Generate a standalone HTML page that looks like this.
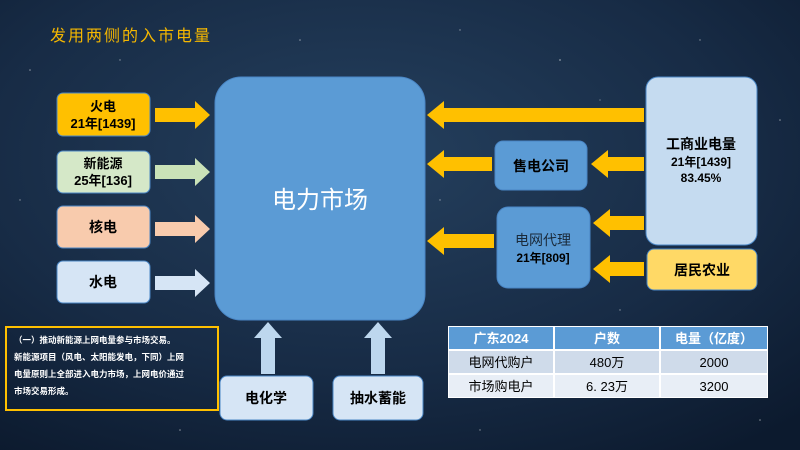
<!DOCTYPE html>
<html><head><meta charset="utf-8"><style>
html,body{margin:0;padding:0;width:800px;height:450px;overflow:hidden;background:#14253d}
svg{display:block}
text{font-family:"Liberation Sans","Noto Sans CJK SC",sans-serif}
</style></head><body>
<svg width="800" height="450" viewBox="0 0 800 450" xmlns="http://www.w3.org/2000/svg">
<defs>
<radialGradient id="bg" cx="0.45" cy="0.35" r="0.8">
<stop offset="0" stop-color="#25405e"/><stop offset="0.6" stop-color="#172b45"/><stop offset="1" stop-color="#0c1a2e"/>
</radialGradient>
</defs>
<rect width="800" height="450" fill="url(#bg)"/>
<g fill="#ffffff" opacity="0.5">
<circle cx="30" cy="70" r="0.8"/><circle cx="120" cy="60" r="0.7"/><circle cx="300" cy="40" r="0.8"/><circle cx="460" cy="30" r="0.7"/><circle cx="560" cy="60" r="0.9"/><circle cx="700" cy="40" r="0.7"/><circle cx="780" cy="120" r="0.8"/><circle cx="620" cy="310" r="0.7"/><circle cx="180" cy="430" r="0.8"/><circle cx="480" cy="430" r="0.7"/><circle cx="760" cy="420" r="0.8"/><circle cx="20" cy="200" r="0.7"/><circle cx="440" cy="200" r="0.7"/><circle cx="600" cy="100" r="0.6"/>
</g>
<text x="50" y="41" font-family="'Noto Serif CJK SC',serif" font-size="16" fill="#f5b700" letter-spacing="2">发用两侧的入市电量</text>

<!-- left boxes -->
<rect x="57" y="93" width="93" height="43" rx="6" fill="#ffc000" stroke="#4a86c5" stroke-width="1"/>
<text x="103" y="111" font-size="13" font-weight="bold" text-anchor="middle">火电</text>
<text x="103" y="128" font-size="13" font-weight="bold" text-anchor="middle">21年[1439]</text>
<rect x="57" y="151" width="93" height="42" rx="6" fill="#d5e8c8" stroke="#4a86c5" stroke-width="1"/>
<text x="103" y="168" font-size="13" font-weight="bold" text-anchor="middle">新能源</text>
<text x="103" y="185" font-size="13" font-weight="bold" text-anchor="middle">25年[136]</text>
<rect x="57" y="206" width="93" height="42" rx="6" fill="#f8cbad" stroke="#4a86c5" stroke-width="1"/>
<text x="103" y="232" font-size="14" font-weight="bold" text-anchor="middle">核电</text>
<rect x="57" y="261" width="93" height="42" rx="6" fill="#d6e5f5" stroke="#4a86c5" stroke-width="1"/>
<text x="103" y="287" font-size="14" font-weight="bold" text-anchor="middle">水电</text>

<!-- right-pointing arrows -->
<polygon points="155,108 195,108 195,101 210,115 195,129 195,122 155,122" fill="#ffc000"/>
<polygon points="155,165 195,165 195,158 210,172 195,186 195,179 155,179" fill="#c9e2b8"/>
<polygon points="155,222 195,222 195,215 210,229 195,243 195,236 155,236" fill="#f8cbad"/>
<polygon points="155,276 195,276 195,269 210,283 195,297 195,290 155,290" fill="#d6e5f5"/>

<!-- center -->
<rect x="215" y="77" width="210" height="243" rx="26" fill="#5b9bd5" stroke="#4a86c5"/>
<text x="320" y="208" font-size="24" fill="#ffffff" text-anchor="middle">电力市场</text>

<!-- right boxes -->
<rect x="646" y="77" width="111" height="168" rx="12" fill="#c5dbf0" stroke="#4a86c5"/>
<text x="701" y="149" font-size="14" font-weight="bold" text-anchor="middle">工商业电量</text>
<text x="701" y="166" font-size="12" font-weight="bold" text-anchor="middle">21年[1439]</text>
<text x="701" y="182" font-size="12" font-weight="bold" text-anchor="middle">83.45%</text>
<rect x="647" y="249" width="110" height="41" rx="7" fill="#ffd966" stroke="#4a86c5"/>
<text x="702" y="275" font-size="14" font-weight="bold" text-anchor="middle">居民农业</text>
<rect x="495" y="141" width="92" height="49" rx="8" fill="#5b9bd5" stroke="#4a86c5"/>
<text x="541" y="171" font-size="14" font-weight="bold" text-anchor="middle">售电公司</text>
<rect x="497" y="207" width="93" height="81" rx="11" fill="#5b9bd5" stroke="#4a86c5"/>
<text x="543" y="245" font-size="14" text-anchor="middle" fill="#1a2a3a">电网代理</text>
<text x="543" y="262" font-size="12" font-weight="bold" text-anchor="middle">21年[809]</text>

<!-- left-pointing arrows -->
<g fill="#ffc000">
<polygon points="644,108 444,108 444,101 427,115 444,129 444,122 644,122"/>
<polygon points="492,157 444,157 444,150 427,164 444,178 444,171 492,171"/>
<polygon points="644,157 608,157 608,150 591,164 608,178 608,171 644,171"/>
<polygon points="494,234 444,234 444,227 427,241 444,255 444,248 494,248"/>
<polygon points="644,216 610,216 610,209 593,223 610,237 610,230 644,230"/>
<polygon points="644,262 610,262 610,255 593,269 610,283 610,276 644,276"/>
</g>

<!-- bottom -->
<polygon points="261,374 261,338 254,338 268,322 282,338 275,338 275,374" fill="#bdd7ee"/>
<polygon points="371,374 371,338 364,338 378,322 392,338 385,338 385,374" fill="#bdd7ee"/>
<rect x="220" y="376" width="93" height="44" rx="7" fill="#d6e5f5" stroke="#4a86c5"/>
<text x="266" y="403" font-size="14" font-weight="bold" text-anchor="middle">电化学</text>
<rect x="333" y="376" width="90" height="44" rx="7" fill="#d6e5f5" stroke="#4a86c5"/>
<text x="378" y="403" font-size="14" font-weight="bold" text-anchor="middle">抽水蓄能</text>

<!-- note box -->
<rect x="6" y="327" width="212" height="83" fill="none" stroke="#ffc000" stroke-width="2"/>
<g font-family="'Noto Serif CJK SC',serif" font-size="8.5" fill="#ffffff" font-weight="bold">
<text x="14" y="343">（一）推动新能源上网电量参与市场交易。</text>
<text x="14" y="360">新能源项目（风电、太阳能发电，下同）上网</text>
<text x="14" y="377">电量原则上全部进入电力市场，上网电价通过</text>
<text x="14" y="394">市场交易形成。</text>
</g>

<!-- table -->
<rect x="448" y="326" width="320" height="72" fill="#ffffff"/>
<rect x="449" y="327" width="104" height="22" fill="#5b9bd5"/>
<rect x="555" y="327" width="104" height="22" fill="#5b9bd5"/>
<rect x="661" y="327" width="106" height="22" fill="#5b9bd5"/>
<rect x="449" y="351" width="104" height="22" fill="#cfdbea"/>
<rect x="555" y="351" width="104" height="22" fill="#cfdbea"/>
<rect x="661" y="351" width="106" height="22" fill="#cfdbea"/>
<rect x="449" y="375" width="104" height="22" fill="#e8eef6"/>
<rect x="555" y="375" width="104" height="22" fill="#e8eef6"/>
<rect x="661" y="375" width="106" height="22" fill="#e8eef6"/>
<g font-size="13" text-anchor="middle">
<text x="501" y="343" fill="#fff" font-weight="bold">广东2024</text>
<text x="607" y="343" fill="#fff" font-weight="bold">户数</text>
<text x="714" y="343" fill="#fff" font-weight="bold">电量（亿度）</text>
<text x="501" y="367">电网代购户</text>
<text x="607" y="367">480万</text>
<text x="714" y="367">2000</text>
<text x="501" y="391">市场购电户</text>
<text x="607" y="391">6. 23万</text>
<text x="714" y="391">3200</text>
</g>
</svg>
</body></html>
